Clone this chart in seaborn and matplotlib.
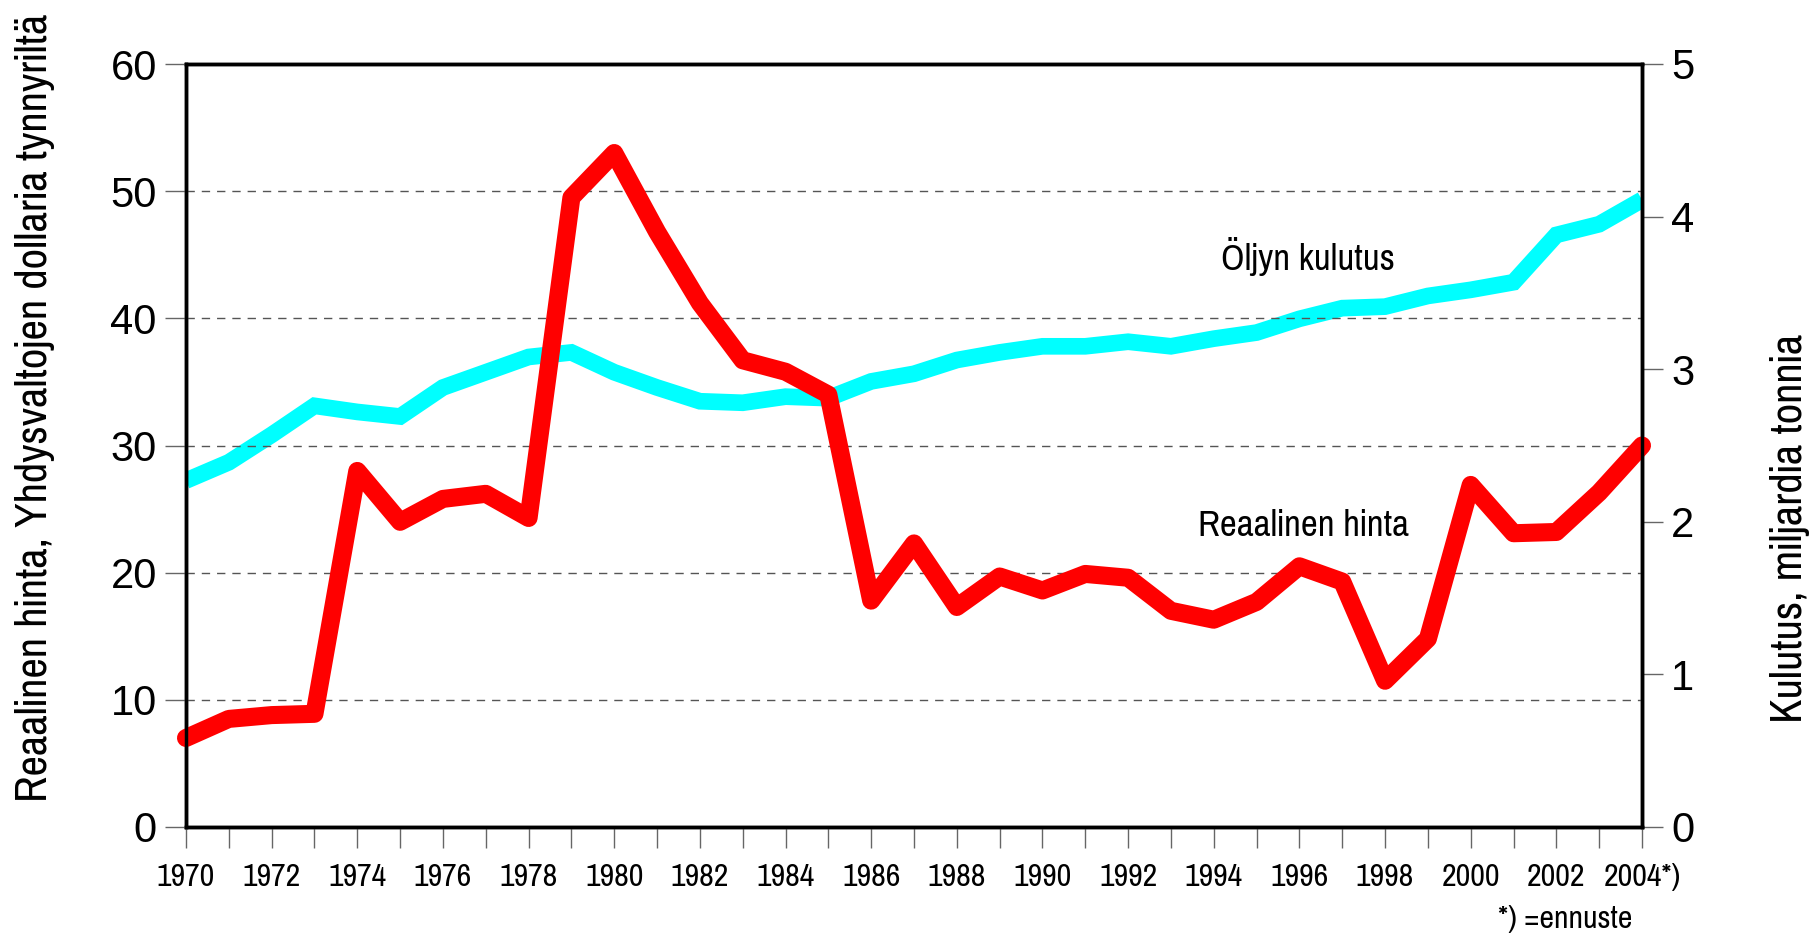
import matplotlib
matplotlib.use("Agg")
import matplotlib.pyplot as plt
import seaborn as sns
import pandas as pd

years = list(range(1970, 2005))
price = [7.0, 8.5, 8.8, 8.9, 28.0, 24.0, 25.8, 26.2, 24.3, 49.5,
         53.0, 46.8, 41.2, 36.7, 35.8, 34.0, 17.8, 22.3, 17.3, 19.7,
         18.6, 19.9, 19.6, 17.0, 16.3, 17.7, 20.5, 19.3, 11.5, 14.8,
         26.9, 23.1, 23.2, 26.3, 30.0]
consumption = [2.27, 2.39, 2.57, 2.76, 2.72, 2.69, 2.88, 2.98, 3.08, 3.11,
               2.98, 2.88, 2.79, 2.78, 2.82, 2.81, 2.92, 2.97, 3.06, 3.11,
               3.15, 3.15, 3.18, 3.15, 3.20, 3.24, 3.33, 3.40, 3.41, 3.48,
               3.52, 3.57, 3.88, 3.95, 4.11]
year_labels = [str(y) if (y - 1970) % 2 == 0 else "" for y in years]
year_labels[-1] = "2004*)"
left_ticks = [0, 10, 20, 30, 40, 50, 60]
right_ticks = [0, 1, 2, 3, 4, 5]

df = pd.DataFrame({"year": years, "price": price, "consumption": consumption})

sns.set_theme(style="white")
NARROW = ["Pragati Narrow", "Archivo Narrow", "Liberation Sans", "DejaVu Sans"]
WIDE = ["Liberation Sans", "DejaVu Sans"]
plt.rcParams["font.family"] = WIDE
plt.rcParams["text.color"] = "black"
plt.rcParams["axes.labelcolor"] = "black"
plt.rcParams["xtick.color"] = "black"
plt.rcParams["ytick.color"] = "black"

fig = plt.figure(figsize=(18.2, 9.36), dpi=100)
ax = fig.add_axes([186 / 1820, 1 - 827 / 936, (1642 - 186) / 1820, (827 - 64) / 936])
ax2 = ax.twinx()

sns.lineplot(data=df, x="year", y="consumption", ax=ax2, color="#00FFFF",
             linewidth=12, solid_capstyle="butt", solid_joinstyle="miter")
sns.lineplot(data=df, x="year", y="price", ax=ax, color="#FF0000",
             linewidth=13, solid_capstyle="round", solid_joinstyle="round",
             clip_on=False)

ax.set_zorder(ax2.get_zorder() + 1)
ax.patch.set_visible(False)

ax.set_xlim(1970, 2004)
ax.set_ylim(0, 60)
ax2.set_ylim(0, 5)

for y in left_ticks[1:-1]:
    ax.axhline(y, color="#555555", linestyle=(0, (6, 5)), linewidth=1.0, zorder=0)

ax.set_xticks(years)
ax.set_xticklabels(year_labels, fontsize=25, family=NARROW)
ax.set_yticks(left_ticks)
ax.set_yticklabels([str(v) for v in left_ticks], fontsize=30)
ax2.set_yticks(right_ticks)
ax2.set_yticklabels([str(v) for v in right_ticks], fontsize=30)

ax.tick_params(axis="x", direction="out", length=15, width=1, color="#666666",
               labelcolor="black", pad=11, bottom=True)
ax.tick_params(axis="y", direction="out", length=15, width=1, color="#666666",
               labelcolor="black", pad=6, left=True)
ax2.tick_params(axis="y", direction="out", length=15, width=1, color="#666666",
                labelcolor="black", pad=6, right=True)

for a in (ax, ax2):
    for s in a.spines.values():
        s.set_color("black")
        s.set_linewidth(2.5)

ax.set_xlabel("")
ax.set_ylabel("Reaalinen hinta, Yhdysvaltojen dollaria tynnyriltä",
              fontsize=35, family=NARROW, color="black")
ax.yaxis.set_label_coords(-0.090, 0.55)
ax2.set_ylabel("Kulutus, miljardia tonnia", fontsize=35, family=NARROW,
               color="black")
ax2.yaxis.set_label_coords(1.088, 0.392)

ax.text(1996.2, 44.9, "Öljyn kulutus", fontsize=29, family=NARROW,
        ha="center", va="center", color="black")
ax.text(1996.1, 23.7, "Reaalinen hinta", fontsize=29, family=NARROW,
        ha="center", va="center", color="black")
fig.text(1565 / 1820, 1 - 919 / 936, "*) =ennuste", fontsize=25, family=NARROW,
         ha="center", va="center", color="black")

fig.savefig("out.png", dpi=100)
